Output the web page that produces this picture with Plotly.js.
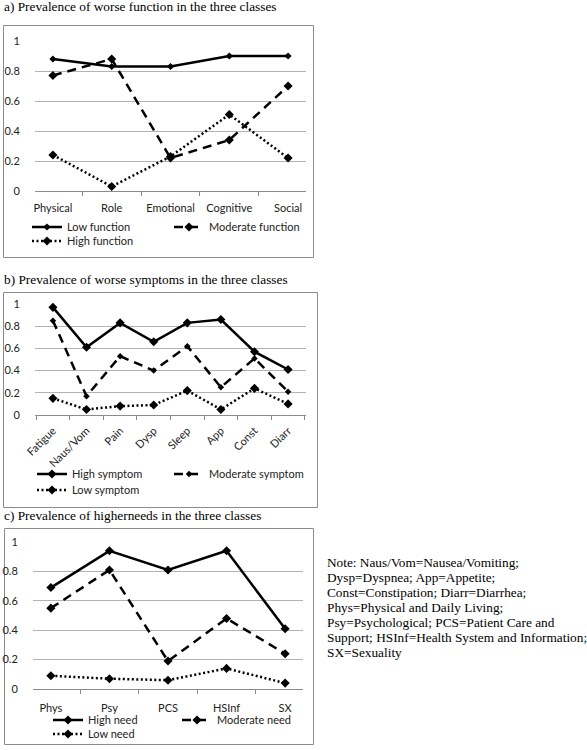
<!DOCTYPE html>
<html><head><meta charset="utf-8">
<script src="https://cdn.plot.ly/plotly-3.0.1.min.js"></script>
<style>html,body{margin:0;padding:0;background:#fff}#chart{width:587px;height:750px}</style>
</head><body><div id="chart"></div>
<script>
const functionCategories = ["Physical","Role","Emotional","Cognitive","Social"];
const lowFunction = [0.88,0.83,0.83,0.90,0.90];
const moderateFunction = [0.77,0.88,0.22,0.34,0.70];
const highFunction = [0.24,0.03,0.23,0.51,0.22];

const symptomCategories = ["Fatigue","Naus/Vom","Pain","Dysp","Sleep","App","Const","Diarr"];
const highSymptom = [0.97,0.61,0.83,0.66,0.83,0.86,0.57,0.41];
const moderateSymptom = [0.85,0.17,0.53,0.40,0.62,0.25,0.51,0.21];
const lowSymptom = [0.15,0.05,0.08,0.09,0.22,0.05,0.24,0.10];

const needCategories = ["Phys","Psy","PCS","HSInf","SX"];
const highNeed = [0.69,0.94,0.81,0.94,0.41];
const moderateNeed = [0.55,0.81,0.19,0.48,0.24];
const lowNeed = [0.09,0.07,0.06,0.14,0.04];

const panelTitles = [
  "a) Prevalence of worse function in the three classes",
  "b) Prevalence of worse symptoms in the three classes",
  "c) Prevalence of higherneeds in the three classes"
];
const noteLines = [
  "Note: Naus/Vom=Nausea/Vomiting;",
  "Dysp=Dyspnea; App=Appetite;",
  "Const=Constipation; Diarr=Diarrhea;",
  "Phys=Physical and Daily Living;",
  "Psy=Psychological; PCS=Patient Care and",
  "Support; HSInf=Health System and Information;",
  "SX=Sexuality"
];

const W = 587, H = 750;
const px = v => v / W;
const py = v => 1 - v / H;

const SANS = "Lato, 'Open Sans', sans-serif";
const SERIF = "'Liberation Serif', 'DejaVu Serif', serif";
const solid = {color:"#000", width:2.5, dash:"solid"};
const dashed = {color:"#000", width:2.5, dash:"9px,6px"};
const dotted = {color:"#000", width:2.5, dash:"2px,2.5px"};

function tr(name, x, y, line, size, xa, ya, legend) {
  return {type:"scatter", mode:"lines+markers", name:name, x:x, y:y,
    xaxis:xa, yaxis:ya, legend:legend, line:line, cliponaxis:false,
    marker:{symbol:"diamond", size:size, color:"#000"}};
}

const data = [
  tr("Low function", functionCategories, lowFunction, solid, 5.5, "x", "y", "legend"),
  tr("Moderate function", functionCategories, moderateFunction, dashed, 7, "x", "y", "legend"),
  tr("High function", functionCategories, highFunction, dotted, 7, "x", "y", "legend2"),
  tr("High symptom", symptomCategories, highSymptom, solid, 7, "x2", "y2", "legend3"),
  tr("Moderate symptom", symptomCategories, moderateSymptom, dashed, 5, "x2", "y2", "legend3"),
  tr("Low symptom", symptomCategories, lowSymptom, dotted, 7, "x2", "y2", "legend4"),
  tr("High need", needCategories, highNeed, solid, 7, "x3", "y3", "legend5"),
  tr("Moderate need", needCategories, moderateNeed, dashed, 7, "x3", "y3", "legend5"),
  tr("Low need", needCategories, lowNeed, dotted, 7, "x3", "y3", "legend6")
];

function xax(d0, d1, anchor, angle, standoff) {
  return {domain:[px(d0), px(d1)], anchor:anchor, type:"category",
    showline:true, linecolor:"#8c8c8c", linewidth:1, showgrid:false, zeroline:false,
    ticks:"outside", tickson:"boundaries", ticklen:4, tickcolor:"#8c8c8c",
    tickangle:angle, ticklabelstandoff:standoff,
    tickfont:{family:SANS, size:11, color:"#222"}, fixedrange:true};
}
function yax(top, bottom, anchor) {
  return {domain:[py(bottom), py(top)], anchor:anchor, range:[0,1], dtick:0.2, tick0:0,
    showline:false, showgrid:true, gridcolor:"#b3b3b3", gridwidth:1, zeroline:false,
    ticks:"outside", ticklen:4, tickcolor:"rgba(0,0,0,0)", ticklabelstandoff:8,
    tickfont:{family:SANS, size:11, color:"#222"}, fixedrange:true};
}
function leg(x, top, ew) {
  return {orientation:"h", x:px(x), y:py(top), xanchor:"left", yanchor:"top",
    entrywidth:ew, bgcolor:"rgba(0,0,0,0)", borderwidth:0,
    font:{family:SANS, size:11, color:"#222"}, itemclick:false, itemdoubleclick:false};
}

const titleY = [6.3, 279, 515];
const noteTop = 562, noteStep = 15;

const annotations = panelTitles.map((t, i) => ({
  text:t, xref:"paper", yref:"paper", x:px(2), y:py(titleY[i]),
  xanchor:"left", yanchor:"middle", showarrow:false,
  font:{family:SERIF, size:13.3, color:"#000"}
})).concat(noteLines.map((t, i) => ({
  text:t, xref:"paper", yref:"paper", x:px(325), y:py(noteTop + i*noteStep),
  xanchor:"left", yanchor:"middle", showarrow:false,
  font:{family:SERIF, size:13.3, color:"#000"}
})));

function box(x0, y0, x1, y1) {
  return {type:"rect", xref:"paper", yref:"paper", x0:px(x0), x1:px(x1), y0:py(y0), y1:py(y1),
    line:{color:"#8c8c8c", width:1}, fillcolor:"rgba(0,0,0,0)", layer:"below"};
}

const layout = {
  width:W, height:H, margin:{l:0, r:0, t:0, b:0},
  paper_bgcolor:"#fff", plot_bgcolor:"rgba(0,0,0,0)", showlegend:true,
  xaxis:xax(35, 306, "y", 0, 7), yaxis:yax(41, 191, "x"),
  xaxis2:xax(35, 306, "y2", -45, 4), yaxis2:yax(304, 415, "x2"),
  xaxis3:xax(33, 303, "y3", 0, 9), yaxis3:yax(542, 689, "x3"),
  legend:leg(27, 212.5, 97), legend2:leg(27, 226.5, 97),
  legend3:leg(32, 459.5, 92), legend4:leg(32, 475.5, 92),
  legend5:leg(48, 705.5, 84), legend6:leg(48, 719.5, 84),
  annotations:annotations,
  shapes:[box(3.5, 25.5, 313.5, 257.5), box(3.5, 292.5, 317.5, 507.5), box(4.5, 528.5, 313.5, 744.5)]
};

Plotly.newPlot("chart", data, layout, {displayModeBar:false, staticPlot:true});
</script></body></html>
